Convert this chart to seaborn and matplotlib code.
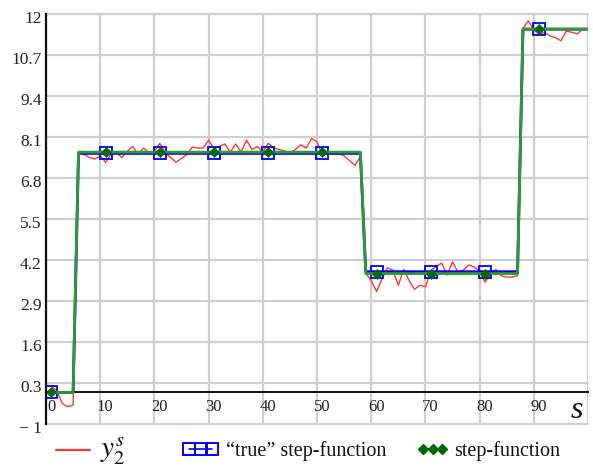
import numpy as np
import pandas as pd
import matplotlib
matplotlib.use("Agg")
import matplotlib.pyplot as plt
import matplotlib.transforms as mtransforms
from matplotlib.lines import Line2D
import seaborn as sns

# sample index
s_all = list(range(1, 101))
s_meas = list(range(1, 100))

# measured output y_2^s
y2_meas = [0.2, 0.05, -0.35, -0.45, -0.4,
           7.6, 7.55, 7.45, 7.4, 7.5, 7.3, 7.55, 7.6, 7.45, 7.65,
           7.8, 7.55, 7.75, 7.6, 7.65, 7.9, 7.6, 7.45, 7.3, 7.42,
           7.55, 7.78, 7.75, 7.75, 8.0, 7.72, 7.8, 7.88, 7.62, 7.88,
           7.62, 8.0, 7.7, 7.8, 7.62, 7.9, 7.75, 7.7, 7.66, 7.6,
           7.7, 7.85, 7.75, 8.05, 7.95, 7.53, 7.6, 7.55, 7.58, 7.5,
           7.35, 7.2, 7.48,
           3.78, 3.55, 3.2, 3.6, 3.95, 3.88, 3.4, 3.9, 3.55, 3.27,
           3.4, 3.35, 3.85, 4.0, 4.1, 3.72, 4.14, 3.82, 3.88, 4.04,
           3.98, 3.85, 3.5, 3.75, 3.9, 3.7, 3.66, 3.66, 3.7,
           11.55, 11.78, 11.5, 11.35, 11.42, 11.3, 11.25, 11.15, 11.46,
           11.42, 11.37, 11.52]

# piecewise-constant levels and how many samples each one lasts
seg_lengths = [5, 53, 29, 13]
true_levels = [0.0, 7.58, 3.83, 11.52]
est_levels = [0.0, 7.62, 3.77, 11.52]
true_step = list(np.repeat(true_levels, seg_lengths))
est_step = list(np.repeat(est_levels, seg_lengths))

x_ticks = [0, 10, 20, 30, 40, 50, 60, 70, 80, 90, 100]
x_ticklabels = ["0", "10", "20", "30", "40", "50", "60", "70", "80", "90", ""]
y_ticks = [-1, 0.3, 1.6, 2.9, 4.2, 5.5, 6.8, 8.1, 9.4, 10.7, 12]
y_ticklabels = ["\u2212 1", "0.3", "1.6", "2.9", "4.2", "5.5", "6.8",
                "8.1", "9.4", "10.7", "12"]

sns.set_theme(style="white")
plt.rcParams["font.family"] = ["Liberation Serif", "DejaVu Serif"]
plt.rcParams["mathtext.fontset"] = "stix"

RED = "#ff3535"
BLUE = "#0000ff"
GREEN = "#2f9a2f"
DGREEN = "#006a00"

fig = plt.figure(figsize=(5.93, 4.67), dpi=100)
ax = fig.add_axes([46 / 593, 43 / 467, 542 / 593, 410 / 467])

meas_df = pd.DataFrame({"s": s_meas, "y": y2_meas})
step_df = pd.DataFrame({"s": s_all, "true": true_step, "est": est_step})

sns.lineplot(data=meas_df, x="s", y="y", ax=ax, color=RED, lw=1.0,
             estimator=None, zorder=3)
sns.lineplot(data=step_df, x="s", y="true", ax=ax, color=BLUE, lw=2.0,
             estimator=None, marker="s", markevery=10, markersize=8,
             markerfacecolor="none", markeredgecolor=BLUE,
             markeredgewidth=1.3, zorder=4)
sns.lineplot(data=step_df, x="s", y="est", ax=ax, color=GREEN, lw=2.0,
             estimator=None, marker="D", markevery=10, markersize=5,
             markerfacecolor=DGREEN, markeredgecolor=DGREEN,
             markeredgewidth=0.5, zorder=5)

ax.set_xlim(0, 100)
ax.set_ylim(-1, 12)
ax.set_xticks(x_ticks)
ax.set_xticklabels(x_ticklabels)
ax.set_yticks(y_ticks)
ax.set_yticklabels(y_ticklabels)
ax.set_xlabel("")
ax.set_ylabel("")

ax.grid(True, color="#cfcfcf", lw=1.6)
for gl in ax.get_xgridlines() + ax.get_ygridlines():
    gl.set_clip_on(False)
ax.set_axisbelow(True)

for side in ["top", "right"]:
    ax.spines[side].set_visible(False)
ax.spines["left"].set_color("#111111")
ax.spines["left"].set_linewidth(1.6)
ax.spines["left"].set_zorder(6)
ax.spines["bottom"].set_position(("data", 0))
ax.spines["bottom"].set_color("#111111")
ax.spines["bottom"].set_linewidth(1.4)

ax.tick_params(axis="both", direction="inout", length=6, width=1.2,
               color="#111111", labelcolor="#222222")
ax.tick_params(axis="x", pad=1.5, labelsize=12)
ax.tick_params(axis="y", pad=0, labelsize=12.5)

dx = mtransforms.ScaledTranslation(5 / 100, 0, fig.dpi_scale_trans)
for lab in ax.get_xticklabels():
    lab.set_transform(lab.get_transform() + dx)
dy = mtransforms.ScaledTranslation(0, -3 / 100, fig.dpi_scale_trans)
for lab in ax.get_yticklabels():
    lab.set_transform(lab.get_transform() + dy)

ax.text(98.0, -0.56, "s", fontstyle="italic", fontsize=23,
        ha="center", va="center", color="#111111", zorder=7)

# legend entries, one block each
leg_fs = 14.5
entries = [
    (Line2D([], [], color=RED, lw=1.6), r"$y_2^s$", 56, 1.7, 0.5, 1),
    (Line2D([], [], color=BLUE, lw=1.2, marker="s", markersize=8,
            markerfacecolor="none", markeredgecolor=BLUE,
            markeredgewidth=1.4), "\u201ctrue\u201d step-function",
     183, 1.75, 0.4, 3),
    (Line2D([], [], color=DGREEN, lw=1.2, marker="D", markersize=5,
            markerfacecolor=DGREEN, markeredgecolor=DGREEN),
     "step-function", 417, 1.55, 0.3, 3),
]
for handle, label, x_px, hl, tp, npts in entries:
    leg = fig.legend([handle], [label], loc="center left",
                     bbox_to_anchor=(x_px / 593, 1 - 451 / 467),
                     frameon=False, fontsize=leg_fs, handlelength=hl,
                     handletextpad=tp, numpoints=npts, borderpad=0,
                     borderaxespad=0)
    for t in leg.get_texts():
        t.set_color("#111111")
    if label.startswith("$"):
        leg.get_texts()[0].set_fontsize(21)

fig.savefig("out.png", dpi=100)
